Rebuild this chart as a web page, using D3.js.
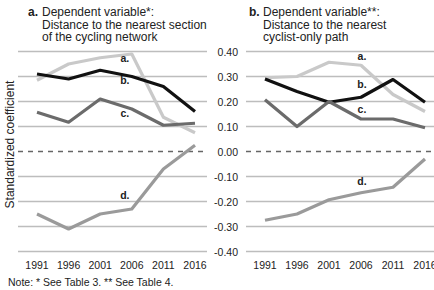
<!DOCTYPE html>
<html>
<head>
<meta charset="utf-8">
<script src="https://cdn.jsdelivr.net/npm/d3@7"></script>
<style>
  body { margin: 0; background: #fff; }
  svg { font-family: "Liberation Sans", Arial, sans-serif; }
</style>
</head>
<body>
<div id="chart"></div>
<script>
// years on the x axis
const years = [1991, 1996, 2001, 2006, 2011, 2016]
const yTicks = [0.4, 0.3, 0.2, 0.1, 0, -0.1, -0.2, -0.3, -0.4]

// panel a: distance to the nearest section of the cycling network
const panelA_a = [0.285, 0.35, 0.375, 0.39, 0.137, 0.075]
const panelA_b = [0.31, 0.29, 0.325, 0.30, 0.26, 0.16]
const panelA_c = [0.157, 0.117, 0.21, 0.17, 0.105, 0.113]
const panelA_d = [-0.25, -0.31, -0.25, -0.23, -0.07, 0.025]
const panelA_labels = [0.36, 0.27, 0.14, -0.19]

// panel b: distance to the nearest cyclist-only path
const panelB_a = [0.295, 0.30, 0.357, 0.345, 0.228, 0.16]
const panelB_b = [0.29, 0.24, 0.197, 0.217, 0.288, 0.197]
const panelB_c = [0.207, 0.10, 0.20, 0.13, 0.13, 0.095]
const panelB_d = [-0.275, -0.25, -0.193, -0.165, -0.143, -0.03]
const panelB_labels = [0.365, 0.255, 0.155, -0.135]

const seriesNames = ["a.", "b.", "c.", "d."]
const seriesColors = ["#c9c9c9", "#111111", "#6b6b6b", "#9a9a9a"]

const width = 434, height = 290

const svg = d3.select("#chart").append("svg")
    .attr("width", width)
    .attr("height", height)

const y = d3.scaleLinear().domain([-0.4, 0.4]).range([251.5, 51.5])

const panels = [
    {
        letter: "a.",
        title: ["Dependent variable*:", "Distance to the nearest section", "of the cycling network"],
        titleX: 28,
        grid: [18, 207],
        xr: [37, 195],
        series: [panelA_a, panelA_b, panelA_c, panelA_d],
        labels: panelA_labels,
        labelShift: -7
    },
    {
        letter: "b.",
        title: ["Dependent variable**:", "Distance to the nearest", "cyclist-only path"],
        titleX: 249,
        grid: [246, 434],
        xr: [265, 425],
        series: [panelB_a, panelB_b, panelB_c, panelB_d],
        labels: panelB_labels,
        labelShift: 1
    }
]

panels.forEach(p => {
    const g = svg.append("g")
    const x = d3.scalePoint().domain(years).range(p.xr)

    // gridlines
    g.selectAll("line.grid")
        .data(yTicks.filter(t => t !== 0))
        .enter().append("line")
        .attr("x1", p.grid[0]).attr("x2", p.grid[1])
        .attr("y1", d => y(d)).attr("y2", d => y(d))
        .attr("stroke", "#bdbdbd")
        .attr("stroke-width", 1.3)

    g.append("line")
        .attr("x1", p.grid[0]).attr("x2", p.grid[1])
        .attr("y1", y(0)).attr("y2", y(0))
        .attr("stroke", "#666")
        .attr("stroke-width", 1.3)
        .attr("stroke-dasharray", "5,5")

    // x labels
    g.selectAll("text.year")
        .data(years)
        .enter().append("text")
        .attr("x", d => x(d))
        .attr("y", 269)
        .attr("text-anchor", "middle")
        .attr("font-size", 10.5)
        .attr("fill", "#222")
        .text(d => d)

    const line = d3.line()
        .x((d, i) => x(years[i]))
        .y(d => y(d))

    p.series.forEach((s, i) => {
        g.append("path")
            .datum(s)
            .attr("d", line)
            .attr("fill", "none")
            .attr("stroke", seriesColors[i])
            .attr("stroke-width", 3.2)
            .attr("stroke-linejoin", "round")
    })

    // series labels
    g.selectAll("text.lab")
        .data(p.labels)
        .enter().append("text")
        .attr("x", x(2006) + p.labelShift)
        .attr("y", d => y(d))
        .attr("text-anchor", "middle")
        .attr("font-size", 10.5)
        .attr("font-weight", "bold")
        .attr("fill", "#222")
        .text((d, i) => seriesNames[i])

    // title
    const t = g.append("text")
        .attr("font-size", 12)
        .attr("fill", "#222")
    t.append("tspan")
        .attr("x", p.titleX).attr("y", 16)
        .attr("font-weight", "bold")
        .text(p.letter)
    p.title.forEach((line, i) => {
        t.append("tspan")
            .attr("x", p.titleX + 14)
            .attr("y", 16 + i * 12.5)
            .text(line)
    })
})

// shared y axis labels in the middle
svg.selectAll("text.tick")
    .data(yTicks)
    .enter().append("text")
    .attr("x", 238)
    .attr("y", d => y(d) + 4)
    .attr("text-anchor", "end")
    .attr("font-size", 10.5)
    .attr("fill", "#222")
    .text(d => d3.format(".2f")(d).replace("−", "-"))

svg.append("text")
    .attr("transform", `translate(14, ${y(0) - 7}) rotate(-90)`)
    .attr("text-anchor", "middle")
    .attr("font-size", 12)
    .attr("fill", "#222")
    .text("Standardized coefficient")

svg.append("text")
    .attr("x", 8)
    .attr("y", 286)
    .attr("font-size", 10.5)
    .attr("fill", "#222")
    .text("Note: * See Table 3. ** See Table 4.")
</script>
</body>
</html>
